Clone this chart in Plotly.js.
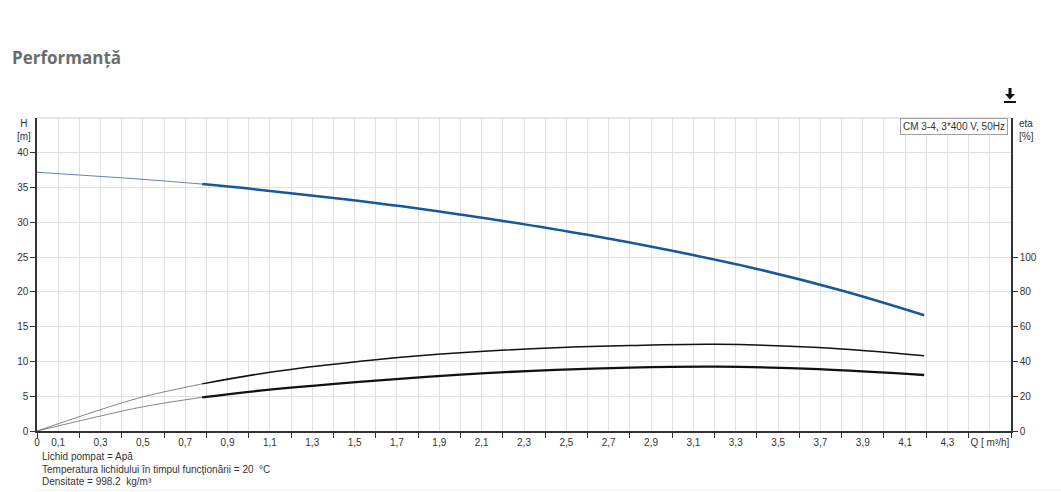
<!DOCTYPE html>
<html>
<head>
<meta charset="utf-8">
<script src="https://cdn.plot.ly/plotly-3.0.1.min.js"></script>
<style>
html,body{margin:0;padding:0;background:#fff;}
#chart{width:1061px;height:492px;}
</style>
</head>
<body>
<div id="chart"></div>
<script>
// ---- data ----
const headQExt = [0, 0.2, 0.4, 0.6, 0.78];
const headExt  = [37.2, 36.8, 36.4, 35.95, 35.5];
const headQ    = [0.78, 1.0, 1.4, 1.8, 2.2, 2.6, 3.0, 3.4, 3.8, 4.19];
const head     = [35.5, 34.85, 33.5, 32.0, 30.2, 28.2, 25.9, 23.3, 20.2, 16.65];

const etaQExt      = [0, 0.306, 0.503, 0.78];
const etaPumpExt   = [0, 12.5, 19.7, 27.1];
const etaTotalExt  = [0, 8.8, 14.0, 19.4];
const etaQ         = [0.78, 1.1, 1.6, 2.0, 2.45, 2.8, 3.21, 3.69, 4.19];
const etaPump      = [27.1, 33.8, 41.0, 45.0, 47.9, 49.2, 49.9, 48.0, 43.3];
const etaTotal     = [19.4, 23.8, 29.0, 32.4, 35.2, 36.5, 37.0, 35.6, 32.2];

const xTickVals  = [0, 0.1, 0.3, 0.5, 0.7, 0.9, 1.1, 1.3, 1.5, 1.7, 1.9, 2.1, 2.3, 2.5, 2.7, 2.9, 3.1, 3.3, 3.5, 3.7, 3.9, 4.1, 4.3, 4.5];
const xTickText  = ["0", "0,1", "0,3", "0,5", "0,7", "0,9", "1,1", "1,3", "1,5", "1,7", "1,9", "2,1", "2,3", "2,5", "2,7", "2,9", "3,1", "3,3", "3,5", "3,7", "3,9", "4,1", "4,3", "Q [ m³/h]"];
const hTickVals  = [0, 5, 10, 15, 20, 25, 30, 35, 40];
const etaTickVals = [0, 20, 40, 60, 80, 100];

const titleText  = "Performanță";
const pumpLabel  = "CM 3-4, 3*400 V, 50Hz";
const notes = [
  "Lichid pompat = Apă",
  "Temperatura lichidului în timpul funcţionării = 20  °C",
  "Densitate = 998.2  kg/m³"
];

// ---- layout helpers (pixel -> paper) ----
const L = 37, R = 50, T = 118, B = 61, W = 1061, Hh = 492;
const PW = W - L - R, PH = Hh - T - B;
const px = v => (v - L) / PW;
const py = v => (Hh - B - v) / PH;

const font = "Liberation Sans, Arial, sans-serif";
const blue = "#17589a";
const grid = "#e0e0e0";
const axisCol = "#333333";

const traces = [
  {x: headQExt, y: headExt, mode: "lines", line: {color: "#5f86b5", width: 1, shape: "spline"}, hoverinfo: "skip", showlegend: false},
  {x: headQ, y: head, mode: "lines", line: {color: blue, width: 2.5, shape: "spline"}, showlegend: false},
  {x: etaQExt, y: etaPumpExt, yaxis: "y2", mode: "lines", line: {color: "#777", width: 0.9, shape: "spline"}, hoverinfo: "skip", showlegend: false},
  {x: etaQExt, y: etaTotalExt, yaxis: "y2", mode: "lines", line: {color: "#777", width: 0.9, shape: "spline"}, hoverinfo: "skip", showlegend: false},
  {x: etaQ, y: etaPump, yaxis: "y2", mode: "lines", line: {color: "#111", width: 1.5, shape: "spline"}, showlegend: false},
  {x: etaQ, y: etaTotal, yaxis: "y2", mode: "lines", line: {color: "#111", width: 2.3, shape: "spline"}, showlegend: false}
];

const annotations = [
  {xref: "paper", yref: "paper", x: px(24), y: py(130), xanchor: "center", yanchor: "middle",
   text: "H<br>[m]", showarrow: false, align: "center", font: {family: font, size: 10, color: axisCol}},
  {xref: "paper", yref: "paper", x: px(1017), y: py(130), xanchor: "left", yanchor: "middle",
   text: "eta<br>[%]", showarrow: false, align: "left", font: {family: font, size: 10, color: axisCol}},
  {xref: "paper", yref: "paper", x: px(1008), y: py(118), xanchor: "right", yanchor: "top",
   text: pumpLabel, showarrow: false, bgcolor: "#fff", bordercolor: "#a0a0a0", borderwidth: 1, borderpad: 2,
   font: {family: font, size: 10, color: axisCol}}
];
notes.forEach((t, i) => {
  annotations.push({xref: "paper", yref: "paper", x: px(40), y: py(456.5 + i * 12.5), xanchor: "left", yanchor: "middle",
    text: t, showarrow: false, font: {family: font, size: 10, color: axisCol}});
});

const shapes = [
  {type: "line", xref: "paper", yref: "paper", x0: 0, x1: 1, y0: 1, y1: 1, line: {color: "#cfcfcf", width: 1}},
  {type: "line", xref: "paper", yref: "paper", x0: px(37), x1: px(1061), y0: py(490), y1: py(490), line: {color: "#eeeeee", width: 1}},
  // download icon
  {type: "path", xref: "paper", yref: "paper",
   path: `M ${px(1008.5)} ${py(88)} L ${px(1011.5)} ${py(88)} L ${px(1011.5)} ${py(94)} L ${px(1015)} ${py(94)} L ${px(1010)} ${py(99.5)} L ${px(1005)} ${py(94)} L ${px(1008.5)} ${py(94)} Z`,
   fillcolor: "#111", line: {width: 0}},
  {type: "line", xref: "paper", yref: "paper", x0: px(1004), x1: px(1016), y0: py(102), y1: py(102), line: {color: "#111", width: 2}}
];

const layout = {
  width: W, height: Hh,
  margin: {l: L, r: R, t: T, b: B, pad: 0},
  paper_bgcolor: "#fff", plot_bgcolor: "#fff",
  showlegend: false,
  title: {text: "<b>" + titleText + "</b>", xref: "container", yref: "container", x: 12 / W, xanchor: "left",
          y: 1 - 58 / Hh, yanchor: "middle", font: {family: "Open Sans, sans-serif", size: 17, color: "#6a6d70"}},
  xaxis: {range: [0, 4.6], tickmode: "array", tickvals: xTickVals, ticktext: xTickText,
          ticks: "outside", ticklen: 1, tickcolor: "rgba(0,0,0,0)",
          showgrid: true, gridcolor: grid, gridwidth: 1, zeroline: false,
          showline: true, linecolor: axisCol, linewidth: 1.5,
          tickfont: {family: font, size: 10, color: axisCol},
          minor: {tick0: 0, dtick: 0.2, ticks: "outside", ticklen: 5, tickcolor: axisCol, showgrid: true, gridcolor: grid, gridwidth: 1},
          fixedrange: true},
  yaxis: {range: [0, 45], tickmode: "array", tickvals: hTickVals,
          ticks: "outside", ticklen: 5, tickcolor: axisCol,
          showgrid: true, gridcolor: grid, zeroline: false,
          showline: true, linecolor: axisCol, linewidth: 1.5,
          tickfont: {family: font, size: 10, color: axisCol}, fixedrange: true},
  yaxis2: {range: [0, 180], overlaying: "y", side: "right", tickmode: "array", tickvals: etaTickVals,
           ticks: "outside", ticklen: 5, tickcolor: axisCol,
           showgrid: false, zeroline: false,
           showline: true, linecolor: axisCol, linewidth: 1.5,
           tickfont: {family: font, size: 10, color: axisCol}, fixedrange: true},
  annotations: annotations,
  shapes: shapes
};

Plotly.newPlot("chart", traces, layout, {displayModeBar: false, responsive: false});
</script>
</body>
</html>
